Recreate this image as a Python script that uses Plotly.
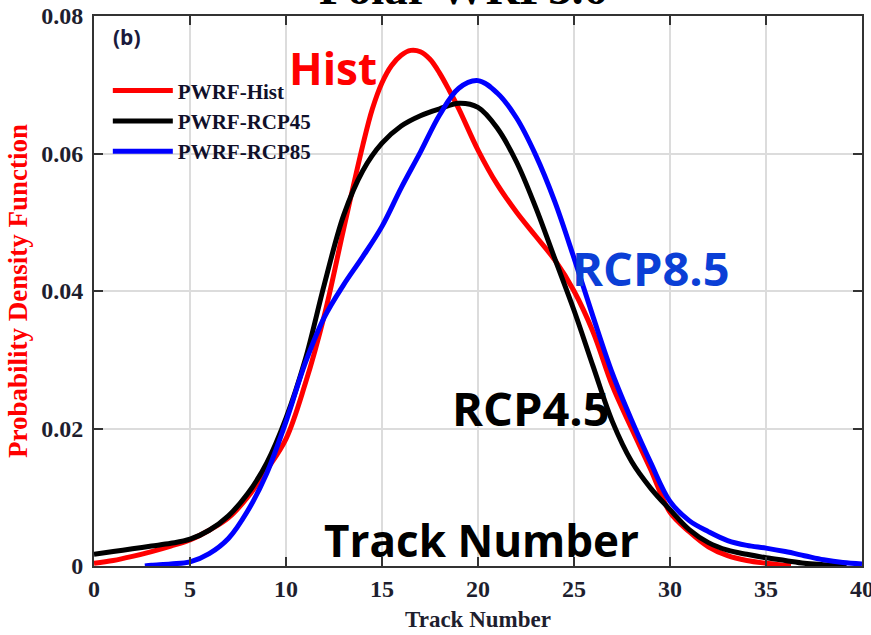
import plotly.graph_objects as go

# ---------------- data ----------------
hist_x = [0, 1, 2, 3, 4, 5, 6, 7, 8, 9, 10, 11, 12, 13, 14, 14.5, 15, 15.5, 16, 16.5, 17,
          17.5, 18, 18.5, 19, 20, 21, 22, 23, 24, 25, 26, 27, 28, 29, 30, 31, 32, 33, 34,
          35, 36, 36.3]
hist_y = [0.0004, 0.0008, 0.0014, 0.0021, 0.0029, 0.0038, 0.0052, 0.0070, 0.0100, 0.0140,
          0.0185, 0.0265, 0.0365, 0.0490, 0.0612, 0.0665, 0.0703, 0.0728, 0.0743, 0.0750,
          0.0748, 0.0737, 0.0717, 0.0692, 0.0665, 0.0605, 0.0555, 0.0515, 0.0480, 0.0445,
          0.0400, 0.0340, 0.0262, 0.0200, 0.0140, 0.0078, 0.0050, 0.0028, 0.0015, 0.0008,
          0.0004, 0.0001, 0.0]

rcp45_x = [0, 1, 2, 3, 4, 5, 6, 7, 8, 9, 10, 11, 12, 13, 14, 15, 16, 17, 18, 19, 20,
           21, 22, 23, 24, 25, 26, 27, 28, 29, 30, 31, 32, 33, 34, 35, 36, 37, 38, 39.2]
rcp45_y = [0.0017, 0.0021, 0.0025, 0.0029, 0.0033, 0.0039, 0.0052, 0.0073, 0.0105, 0.0150,
           0.0215, 0.0300, 0.0410, 0.0510, 0.0575, 0.0615, 0.0640, 0.0655, 0.0665, 0.0673,
           0.0667, 0.0637, 0.0588, 0.0522, 0.0447, 0.0372, 0.0290, 0.0210, 0.0152, 0.0113,
           0.0082, 0.0053, 0.0034, 0.0023, 0.0017, 0.0012, 0.0008, 0.0004, 0.0002, 0.0]

rcp85_x = [2.65, 3, 4, 5, 6, 7, 8, 9, 10, 11, 12, 13, 14, 15, 16, 17, 18, 19, 20,
           21, 22, 23, 24, 25, 26, 27, 28, 29, 30, 31, 32, 33, 34, 35, 36, 37, 38, 39, 40]
rcp85_y = [0.0, 0.0001, 0.0003, 0.0006, 0.0018, 0.0040, 0.0080, 0.0135, 0.0210, 0.0295,
           0.0362, 0.0409, 0.0450, 0.0494, 0.0550, 0.0602, 0.0656, 0.0695, 0.0706, 0.0688,
           0.0652, 0.0598, 0.0530, 0.0448, 0.0362, 0.0280, 0.0212, 0.0150, 0.0094, 0.0066,
           0.0050, 0.0037, 0.0030, 0.0026, 0.0021, 0.0015, 0.0009, 0.0005, 0.0003]

series_names = ["PWRF-Hist", "PWRF-RCP45", "PWRF-RCP85"]
series_colors = ["#ff0000", "#000000", "#0000ff"]

x_tick_vals = [0, 5, 10, 15, 20, 25, 30, 35, 40]
x_tick_text = ["0", "5", "10", "15", "20", "25", "30", "35", "40"]
y_tick_vals = [0, 0.02, 0.04, 0.06, 0.08]
y_tick_text = ["0", "0.02", "0.04", "0.06", "0.08"]

# ---------------- figure ----------------
SERIF = "Liberation Serif, Times New Roman, serif"
SANS = "Open Sans, DejaVu Sans, sans-serif"

fig = go.Figure()
for xs, ys, name, color in zip([hist_x, rcp45_x, rcp85_x], [hist_y, rcp45_y, rcp85_y],
                               series_names, series_colors):
    fig.add_trace(go.Scatter(x=xs, y=ys, name=name, mode="lines",
                             line=dict(color=color, width=5, shape="spline", smoothing=1.0)))

axis_common = dict(showline=True, linecolor="#333333", linewidth=2, mirror="ticks",
                   ticks="inside", ticklen=9, tickwidth=2, tickcolor="#333333",
                   showgrid=True, gridcolor="#dcdcdc", gridwidth=1.5, zeroline=False,
                   automargin=False, ticklabeloverflow="allow",
                   tickfont=dict(family=SERIF, size=24, color="#1e1e2e", weight="bold"))

fig.update_xaxes(range=[0, 40], tickvals=x_tick_vals, ticktext=x_tick_text,
                 title=dict(text="Track Number", standoff=10,
                            font=dict(family=SERIF, size=23, color="#1e1e2e", weight="bold")),
                 **axis_common)
fig.update_yaxes(range=[0, 0.08], tickvals=y_tick_vals, ticktext=y_tick_text,
                 ticklabelstandoff=4,
                 title=dict(text="Probability Density Function", standoff=6,
                            font=dict(family=SERIF, size=27, color="#ff0000", weight="bold")),
                 **axis_common)

annotations = [
    dict(text="Hist", x=12.45, y=0.0724, font=dict(family=SANS, size=44, color="#ff0000", weight="bold")),
    dict(text="RCP8.5", x=29.0, y=0.0433, font=dict(family=SANS, size=47, color="#0b3fd6", weight="bold")),
    dict(text="RCP4.5", x=22.76, y=0.0230, font=dict(family=SANS, size=47, color="#000000", weight="bold")),
    dict(text="Track Number", x=20.16, y=0.0038, font=dict(family=SANS, size=44, color="#000000", weight="bold")),
    dict(text="(b)", x=1.72, y=0.0769, font=dict(family=SANS, size=21, color="#1a1a3c", weight="bold")),
]
for a in annotations:
    fig.add_annotation(xref="x", yref="y", showarrow=False, xanchor="center", yanchor="middle", **a)

fig.add_annotation(text="Polar WRF3.6", xref="paper", yref="paper", x=0.48, y=1.0,
                   xanchor="center", yanchor="bottom", showarrow=False,
                   font=dict(family=SERIF, size=47, color="#000000", weight="bold"))

fig.update_layout(
    width=871, height=635,
    margin=dict(l=94, r=9, t=16, b=69),
    paper_bgcolor="white", plot_bgcolor="white",
    showlegend=True,
    legend=dict(x=0.018, y=0.901, xanchor="left", yanchor="top",
                bgcolor="rgba(0,0,0,0)", itemwidth=60, tracegroupgap=0,
                font=dict(family=SERIF, size=21, color="#10102a", weight="bold")),
)

fig.write_html("out.html", config={"displayModeBar": False},
               post_script="document.body.style.margin='0';")
